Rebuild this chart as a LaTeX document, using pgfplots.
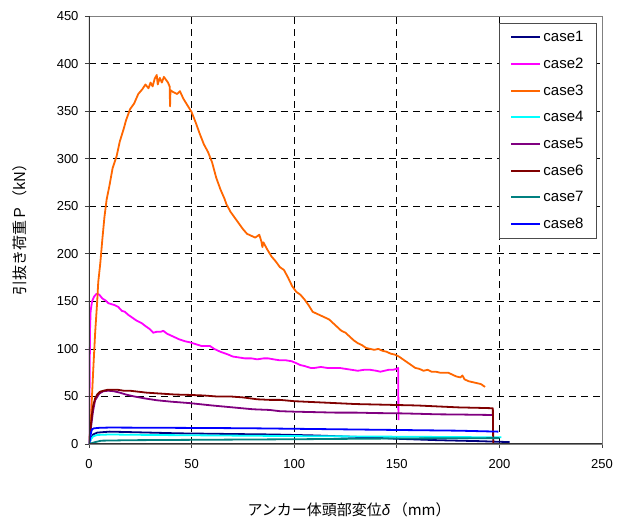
\documentclass[border=0pt]{standalone}
\usepackage{pgfplots}
\pgfplotsset{compat=1.18}
\usepackage{fontspec}
\setmainfont{Liberation Sans}
\newfontfamily\jp{Noto Sans CJK JP}
\newfontfamily\grk{Liberation Sans}
\definecolor{colA}{HTML}{000080}
\definecolor{colB}{HTML}{FF00FF}
\definecolor{colC}{HTML}{FF6600}
\definecolor{colD}{HTML}{00FFFF}
\definecolor{colE}{HTML}{800080}
\definecolor{colF}{HTML}{800000}
\definecolor{colG}{HTML}{008080}
\definecolor{colH}{HTML}{0000FF}
\pgfplotsset{cv/.style={draw=#1, color=#1, line width=1.8pt, line join=round}}
\begin{document}
\begin{tikzpicture}
\useasboundingbox (-89pt,-78pt) rectangle (538pt,444pt);
\begin{axis}[
  at={(0,0)}, anchor=south west,
  scale only axis, width=513pt, height=428pt,
  xmin=0, xmax=250, ymin=0, ymax=450,
  xtick={0,50,...,250}, ytick={0,50,...,450},
  grid=major,
  major grid style={black, dash pattern=on 7pt off 5pt, line width=0.6pt},
  axis line style={draw=gray, line width=0.8pt},
  tick align=outside, major tick length=4pt,
  tick style={draw=gray!50!black, line width=0.6pt},
  xtick pos=bottom, ytick pos=left,
  tick label style={font=\fontsize{13}{15}\selectfont},
  /pgf/number format/assume math mode=true,
  xticklabel style={yshift=-8pt},
  yticklabel style={xshift=-3pt},
  xlabel={\jp アンカー体頭部変位{\grk\itshape δ}\,（mm）},
  ylabel={\jp 引抜き荷重Ｐ（kN）},
  label style={font=\fontsize{15}{17}\selectfont},
  xlabel style={at={(axis description cs:0.507,-0.154)}, anchor=center},
  ylabel style={at={(axis description cs:-0.135,0.51)}, anchor=center},
  legend style={at={(rel axis cs:0.990,0.984)}, anchor=north east,
    draw=gray!60!black, line width=0.8pt, fill=white,
    font=\fontsize{15}{17}\selectfont, row sep=10.8pt,
    inner xsep=11pt, inner ysep=6pt},
  legend cell align=left,
  legend image code/.code={\draw[#1, line width=2pt] (0pt,0pt) -- (29pt,0pt);},
]
\addplot[cv=colA] coordinates {(0,0) (1,6) (2,10) (4,12) (10,13) (20,12.5) (44,11.2) (70,10.5) (90,10) (110,9) (130,7.5) (150,5.5) (170,4) (190,3) (205,2)};
\addlegendentry{case1}
\addplot[cv=colB] coordinates {(0,0) (0.3,60) (0.5,120) (0.8,140) (1.5,150) (2.5,155) (3.7,158) (5,157) (6.5,153) (8,151) (9.5,148) (11,147) (12.5,146) (14.3,144) (16,140) (17.5,139) (19,136) (21,133) (23,130) (25.7,127) (27.5,124) (29.5,121) (31.3,117) (33,118) (35,118) (36.2,119) (38,116) (40,114) (42,112) (44,110) (46.8,108) (49,107) (52,105) (54.9,103) (57,103) (59,103) (61,100) (64,97) (67.9,94) (70,92) (73,91) (76,90) (79.3,90) (82,89) (85,90) (87.4,90) (90,89) (93,88) (96,88) (98.8,87) (101,85) (103,83) (105,82) (108,80) (110,80) (113,81) (116,80) (119,80) (122,80) (125,79) (128,78) (131,77) (134,78) (137,78) (140,77) (142,76) (144,77) (146,78) (148,78) (150,79) (150.7,80) (150.8,25)};
\addlegendentry{case2}
\addplot[cv=colC] coordinates {(0,0) (0.5,12) (1,29) (2,75) (3,117) (4,150) (4.5,170) (5.5,190) (6.5,215) (7.5,238) (8.6,257) (10,272) (11.5,290) (13.5,303) (15,318) (17,332) (18,340) (20,352) (22,358) (24,368) (26,373) (27.5,378) (29,374) (30,380) (31,376) (32,384) (33,388) (33.5,378) (34.5,385) (35.5,380) (36.5,386) (37.5,383) (38.5,380) (39.3,376) (39.5,355) (39.7,372) (41,370) (43,368) (44.3,371) (46,363) (48,356) (50,349) (52,338) (54,326) (56,315) (58,307) (60,296) (62,280) (64,268) (66,258) (67,252) (69,244) (71,238) (73,232) (75,226) (77,221) (79,219) (81,217) (83,220) (84,213) (84.5,207) (85,212) (87,204) (89,197) (91,192) (93,186) (95,183) (97,175) (99,166) (101,160) (103,157) (105,152) (107,146) (109,139) (111,137) (113,135) (115,133) (117,131) (119,127) (121,123) (123,119) (125,117) (127,113) (129,109) (131,106) (133,104) (135,101) (137,100) (139,99) (141,100) (143,98) (145,97) (147,95) (149,94) (151,92) (153,89) (155,86) (157,83) (159,80) (161,79) (163,77) (165,78) (167,76) (169,76) (171,75) (173,75) (175,75) (177,73) (179,71) (181,70) (182,72) (183,68) (185,66) (187,65) (189,64) (191,63) (193,60)};
\addlegendentry{case3}
\addplot[cv=colD] coordinates {(0,0) (1,5) (2,8) (4,9.5) (10,10) (30,9.5) (60,9) (100,8.3) (150,7.7) (201,7)};
\addlegendentry{case4}
\addplot[cv=colE] coordinates {(0,0) (1,18) (2,35) (3,46) (5,53) (7,55.5) (9.4,56) (12,55.5) (15,54) (18,52) (22,50) (27,48) (33,46) (40,44.5) (49,43) (60,40.5) (70,38.5) (80,36.5) (88,35.8) (93,34.5) (100,34) (110,33.5) (120,33) (130,33) (140,32.5) (150,32.3) (160,31.8) (170,31.2) (180,31) (190,30.7) (197,30.5)};
\addlegendentry{case5}
\addplot[cv=colF] coordinates {(0,0) (0.5,10) (1,22) (1.5,32) (2,40) (3,48) (4,52) (5.4,55) (7,56) (9,57) (11.8,57) (14,57) (17,56) (20,56) (24,55) (28,54) (35,53) (42,52) (49,51.6) (56,51) (62,50) (68.7,50) (75,49) (82,47) (88,46.4) (93,46.4) (100,45) (110,44) (120,43) (130,42) (140,41.5) (150,41) (160,40.5) (170,39.5) (180,38.5) (190,38) (196.8,37.6) (197,0)};
\addlegendentry{case6}
\addplot[cv=colG] coordinates {(0,0) (3,2) (6,3.5) (20,4) (60,4.5) (100,5) (150,5.8) (200,6.2)};
\addlegendentry{case7}
\addplot[cv=colH] coordinates {(0,0) (0.5,5) (1,12) (1.5,15.5) (2.5,16.5) (5,17) (10,17.3) (20,17.2) (40,17) (60,16.8) (80,16.5) (100,16) (120,15.5) (140,15) (160,14.5) (180,14) (199.5,13)};
\addlegendentry{case8}
\draw[gray!40!black, line width=1.6pt] (rel axis cs:0,1) -- (rel axis cs:0,0) -- (rel axis cs:1,0);
\end{axis}
\end{tikzpicture}
\end{document}
